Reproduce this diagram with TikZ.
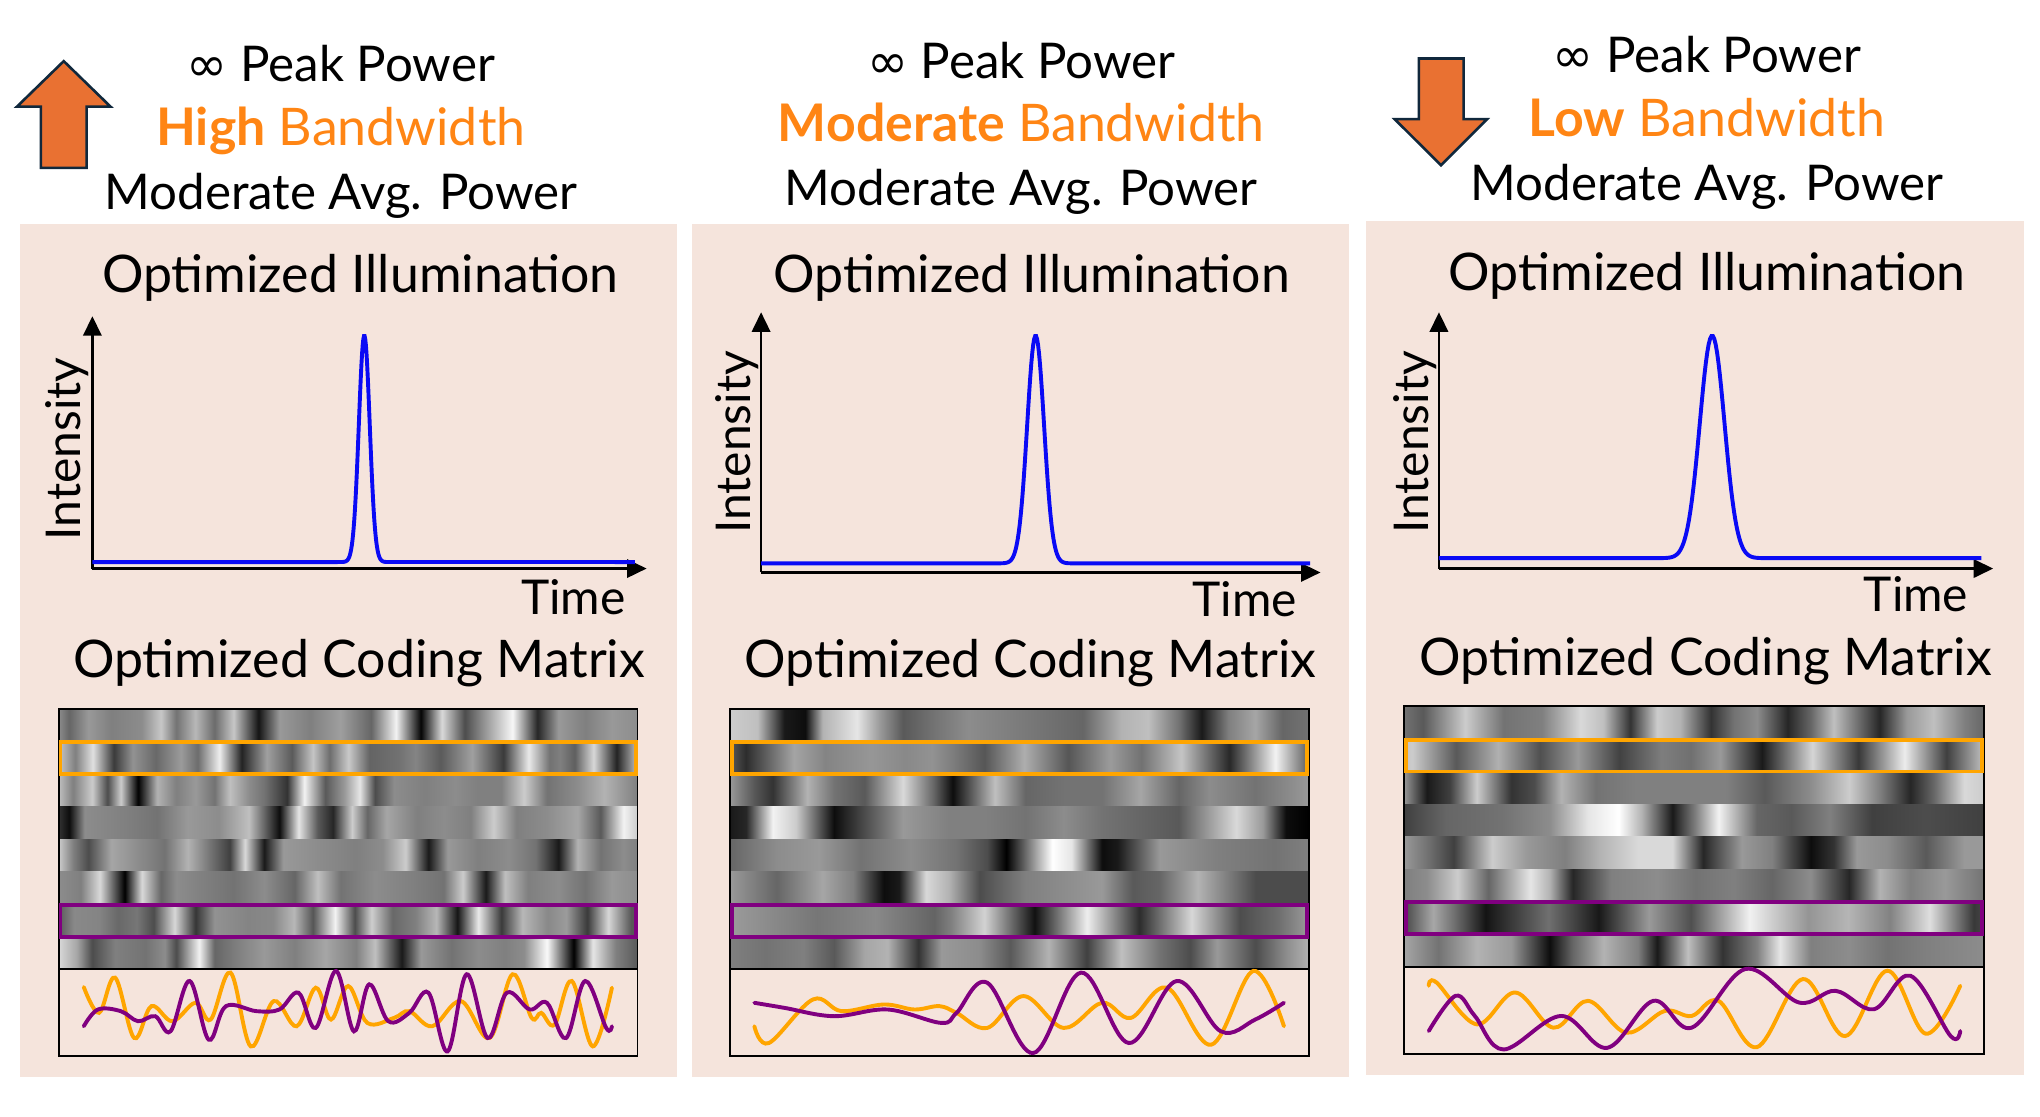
\documentclass[tikz,border=0pt]{standalone}
\usepackage{fontspec}
\setmainfont{Lato}
\newfontfamily\symfont{DejaVu Sans}
\usetikzlibrary{arrows.meta}

\definecolor{panelbg}{RGB}{245,228,220}
\definecolor{arroworange}{RGB}{233,113,50}
\definecolor{arrowedge}{RGB}{16,40,60}
\definecolor{bworange}{RGB}{255,133,20}
\definecolor{codeorange}{RGB}{255,165,0}
\definecolor{codepurple}{RGB}{128,0,128}
\definecolor{pulseblue}{RGB}{10,10,245}

\tikzset{
  panel/.style={fill=panelbg},
  header/.style={anchor=base, inner sep=0pt, font=\fontsize{38}{44}\selectfont},
  bandline/.style={header, text=bworange, font=\fontsize{40}{46}\selectfont},
  title/.style={anchor=base, inner sep=0pt, font=\fontsize{40}{46}\selectfont},
  axislabel/.style={inner sep=0pt, font=\fontsize{37}{43}\selectfont},
  axis/.style={line width=2bp, -{Triangle[length=15bp, width=14bp]}},
  pulse/.style={draw=pulseblue, line width=3bp},
  codeframe/.style={draw=black, line width=1.5bp},
  orangerow/.style={draw=codeorange, line width=3bp},
  purplerow/.style={draw=codepurple, line width=3bp},
  orangewave/.style={draw=codeorange, line width=3bp, line cap=round},
  purplewave/.style={draw=codepurple, line width=3bp, line cap=round},
  bigarrow/.style={fill=arroworange, draw=arrowedge, line width=2bp},
}

% x/value list -> horizontal grey shading (path covers 25bp..75bp)
\newcommand\makecoderow[5]{%
  \edef\rowlist{#5}%
  \gdef\rowspec{}%
  \foreach \u/\v [count=\k] in \rowlist {%
    \pgfmathsetmacro\pos{25+50*((\u-#2)/(#3-#2))}%
    \pgfmathsetmacro\g{max(0,min(1,#4))}%
    \ifnum\k=1 \xdef\rowspec{gray(0bp)=(\g)}\fi
    \xdef\rowspec{\rowspec; gray(\pos bp)=(\g)}%
    \xdef\lastg{\g}%
  }%
  \xdef\rowspec{\rowspec; gray(100bp)=(\lastg)}%
  \edef\tmp{\noexpand\pgfdeclarehorizontalshading{#1}{100bp}{\rowspec}}\tmp
}
% x/y list -> smooth curve
\newcommand\drawcodewave[2]{%
  \gdef\wavepts{}%
  \foreach \u/\v in #2 {\xdef\wavepts{\wavepts (\u,\v)}}%
  \edef\tmp{\noexpand\draw[#1] plot[smooth, tension=0.6] coordinates {\wavepts};}\tmp
}

% high bandwidth
\def\codeAa{22/.55, 50/.4, 100/.6, 160/.5, 240/.55, 290/.78, 330/.45, 380/.72, 430/.42, 480/.78, 545/.08, 600/.6, 680/.5, 760/.62, 840/.4, 905/.95, 970/.02, 1025/.85, 1085/.3, 1130/.55, 1210/.97, 1275/.15, 1330/.6, 1400/.5, 1470/.6, 1537/.55}
\def\codeAb{88/868, 128/945, 170/840, 220/1020, 265/925, 320/970, 380/915, 420/965, 472/825, 525/1045, 585/910, 645/985, 695/870, 735/965, 780/865, 830/975, 900/960, 940/940, 1000/985, 1075/910, 1150/1020, 1210/830, 1260/960, 1285/945, 1320/980, 1365/850, 1420/1045, 1470/870}
\def\codeAc{22/.75, 60/.5, 110/.8, 150/.3, 185/.8, 230/0, 280/.7, 330/.5, 380/.6, 430/.45, 470/.75, 520/.55, 560/.45, 620/.2, 665/.95, 720/.35, 770/.6, 810/.9, 850/.3, 900/.55, 980/.5, 1060/.55, 1120/.5, 1180/.5, 1240/.8, 1300/.45, 1380/.55, 1450/.7, 1537/.5}
\def\codeAd{22/.2, 50/.05, 90/.55, 200/.5, 280/.45, 360/.6, 440/.55, 520/.75, 600/.05, 650/.9, 700/.35, 740/.15, 790/.8, 830/.4, 880/.65, 960/.5, 1030/.55, 1100/.5, 1160/.8, 1220/.5, 1300/.55, 1380/.65, 1440/.35, 1500/.95, 1537/.8}
\def\codeAe{22/.8, 60/.5, 100/.3, 160/.65, 230/.55, 300/.45, 360/.7, 420/.45, 470/.25, 510/.85, 560/.1, 610/.6, 700/.55, 800/.5, 870/.55, 930/.8, 990/.1, 1040/.6, 1120/.5, 1200/.55, 1270/.45, 1330/.1, 1380/.7, 1440/.45, 1500/.55, 1537/.5}
\def\codeAf{22/.55, 80/.5, 130/.85, 195/0, 240/.85, 290/.4, 330/.55, 400/.5, 480/.45, 560/.55, 640/.4, 700/.75, 760/.45, 850/.55, 950/.5, 1030/.45, 1080/.8, 1140/.1, 1190/.75, 1250/.5, 1330/.55, 1400/.45, 1470/.6, 1537/.55}
\def\codeAg{88/985, 125/935, 185/940, 230/970, 275/955, 315/1000, 365/850, 415/1025, 460/925, 540/940, 600/935, 650/885, 695/990, 748/820, 795/1000, 835/860, 885/970, 940/945, 990/885, 1040/1060, 1090/830, 1145/1020, 1195/885, 1255/935, 1300/915, 1350/1020, 1400/850, 1455/990, 1470/985}
\def\codeAh{22/.85, 70/.65, 110/.3, 170/.5, 250/.45, 300/.55, 330/.3, 390/.95, 430/.4, 490/.5, 560/.6, 640/.5, 720/.65, 800/.5, 850/.75, 920/.1, 970/.6, 1050/.45, 1120/.55, 1190/.5, 1240/.55, 1300/.98, 1370/0, 1420/.9, 1480/.5, 1537/.35}
% moderate bandwidth
\def\codeBa{28/.8, 100/.75, 170/.1, 225/.05, 270/.7, 360/.9, 420/.6, 480/.35, 560/.45, 650/.55, 750/.5, 850/.45, 950/.4, 1050/.7, 1120/.75, 1200/.45, 1260/.1, 1330/.5, 1400/.65, 1470/.4, 1540/.45}
\def\codeBb{92/985, 130/1035, 245/905, 320/940, 430/920, 510/935, 575/925, 620/945, 700/990, 795/895, 900/990, 1000/915, 1075/960, 1170/870, 1285/1040, 1395/820, 1475/985}
\def\codeBc{28/.6, 90/.35, 140/.2, 230/.7, 300/.45, 380/.35, 480/.85, 560/.4, 610/.05, 720/.75, 800/.4, 900/.45, 1000/.45, 1100/.65, 1200/.4, 1280/.55, 1400/.45, 1540/.6}
\def\codeBd{28/.1, 70/.15, 140/.95, 200/.8, 300/.05, 380/.3, 480/.6, 600/.5, 700/.5, 800/.45, 900/.55, 1000/.45, 1100/.4, 1200/.35, 1350/.85, 1420/.6, 1480/.05, 1540/0}
\def\codeBe{28/.4, 150/.55, 260/.6, 370/.45, 500/.55, 620/.45, 700/.3, 750/0, 870/1, 920/.9, 1000/.05, 1040/.1, 1150/.6, 1300/.5, 1450/.45, 1540/.5}
\def\codeBf{28/.6, 150/.4, 270/.65, 350/.5, 430/.05, 470/.1, 540/.85, 600/.7, 680/.3, 800/.5, 900/.55, 1000/.6, 1080/.35, 1150/.4, 1250/.7, 1400/.3, 1540/.3}
\def\codeBg{92/915, 170/930, 300/955, 440/935, 580/975, 620/945, 700/855, 820/1065, 945/825, 1070/1035, 1195/850, 1310/1000, 1400/965, 1475/915}
\def\codeBh{28/.5, 120/.45, 220/.5, 300/.35, 380/.65, 440/.7, 520/.2, 580/.6, 680/.55, 760/.35, 860/.7, 960/.25, 1050/.75, 1150/.45, 1230/.3, 1300/.6, 1400/.3, 1480/.55, 1540/.7}
% low bandwidth
\def\codeCa{40/.45, 90/.35, 200/.8, 300/.45, 400/.5, 500/.85, 560/.75, 630/.2, 700/.8, 760/.7, 840/.2, 900/.45, 960/.55, 1040/.15, 1100/.4, 1160/.75, 1280/.15, 1350/.6, 1420/.75, 1500/.5, 1552/.4}
\def\codeCb{105/865, 125/855, 230/980, 330/885, 430/990, 520/910, 620/1005, 720/940, 790/955, 860/910, 960/1048, 1080/845, 1190/1015, 1300/820, 1400/1008, 1490/865}
\def\codeCc{40/.6, 100/.1, 160/.25, 230/.8, 320/.2, 380/.3, 450/.7, 540/.45, 640/.5, 760/.5, 880/.5, 980/.35, 1100/.55, 1200/.8, 1280/.5, 1360/.15, 1420/.4, 1500/.85, 1552/.8}
\def\codeCd{40/.25, 150/.4, 300/.45, 420/.55, 520/.9, 600/1, 660/.7, 740/.1, 800/.5, 860/.95, 960/.4, 1050/.35, 1150/.5, 1260/.25, 1400/.3, 1552/.25}
\def\codeCe{40/.6, 100/.45, 170/.25, 270/.8, 360/.6, 460/.5, 550/.7, 650/.85, 740/.85, 820/.15, 920/.6, 1000/.5, 1100/.05, 1160/.2, 1220/.6, 1300/.55, 1400/.35, 1500/.6, 1552/.6}
\def\codeCf{40/.5, 100/.55, 180/.8, 260/.4, 370/.9, 420/.7, 480/.15, 580/.5, 700/.55, 800/.45, 900/.5, 1000/.4, 1100/.55, 1200/.15, 1280/.7, 1360/.5, 1450/.6, 1552/.45}
\def\codeCg{105/1000, 175/895, 225/955, 300/1055, 450/955, 570/1050, 690/910, 790/990, 930/815, 1070/915, 1165/880, 1265/935, 1360/835, 1465/1015, 1490/1000}
\def\codeCh{40/.65, 130/.45, 230/.7, 320/.6, 420/.05, 480/.4, 560/.7, 650/.5, 700/.1, 780/.75, 870/.2, 960/.5, 1020/.9, 1100/.5, 1200/.55, 1300/.45, 1400/.5, 1552/.55}

\makecoderow{rowAa}{22}{1537}{\v}{\codeAa}
\makecoderow{rowAc}{22}{1537}{\v}{\codeAc}
\makecoderow{rowAd}{22}{1537}{\v}{\codeAd}
\makecoderow{rowAe}{22}{1537}{\v}{\codeAe}
\makecoderow{rowAf}{22}{1537}{\v}{\codeAf}
\makecoderow{rowAh}{22}{1537}{\v}{\codeAh}
\makecoderow{rowBa}{28}{1540}{\v}{\codeBa}
\makecoderow{rowBc}{28}{1540}{\v}{\codeBc}
\makecoderow{rowBd}{28}{1540}{\v}{\codeBd}
\makecoderow{rowBe}{28}{1540}{\v}{\codeBe}
\makecoderow{rowBf}{28}{1540}{\v}{\codeBf}
\makecoderow{rowBh}{28}{1540}{\v}{\codeBh}
\makecoderow{rowCa}{40}{1552}{\v}{\codeCa}
\makecoderow{rowCc}{40}{1552}{\v}{\codeCc}
\makecoderow{rowCd}{40}{1552}{\v}{\codeCd}
\makecoderow{rowCe}{40}{1552}{\v}{\codeCe}
\makecoderow{rowCf}{40}{1552}{\v}{\codeCf}
\makecoderow{rowCh}{40}{1552}{\v}{\codeCh}
\makecoderow{rowAb}{88}{1470}{0.03+0.94*(1075-\v)/260}{\codeAb}
\makecoderow{rowAg}{88}{1470}{0.03+0.94*(1075-\v)/260}{\codeAg}
\makecoderow{rowBb}{92}{1475}{0.03+0.94*(1075-\v)/260}{\codeBb}
\makecoderow{rowBg}{92}{1475}{0.03+0.94*(1075-\v)/260}{\codeBg}
\makecoderow{rowCb}{105}{1490}{0.03+0.94*(1068-\v)/260}{\codeCb}
\makecoderow{rowCg}{105}{1490}{0.03+0.94*(1068-\v)/260}{\codeCg}

\begin{document}
\begin{tikzpicture}[x=1bp, y=-1bp]
  \useasboundingbox (0,0) rectangle (1568,858);

  % panels
  \fill[panel] (15,172) rectangle (520,828);
  \fill[panel] (532,172) rectangle (1037,828);
  \fill[panel] (1050,170) rectangle (1556,826);

  % bandwidth arrows
  \draw[bigarrow] (31.4,129) -- (31.4,82) -- (13,82) -- (49,47) -- (85,82) -- (66.6,82) -- (66.6,129) -- cycle;
  \draw[bigarrow] (1090.6,45) -- (1125,45) -- (1125,91.6) -- (1143,91.6) -- (1107.6,127) -- (1072,91.6) -- (1090.6,91.6) -- cycle;

  % headers
  \node[header] (peakA) at (262,63) {{\symfont ∞} Peak Power};
  \node[bandline] (bandA) at (262,112) {\textbf{High} Bandwidth};
  \node[header] (avgA) at (262,161) {Moderate Avg. Power};
  \node[header] (peakB) at (785,60) {{\symfont ∞} Peak Power};
  \node[bandline] (bandB) at (785,109) {\textbf{Moderate} Bandwidth};
  \node[header] (avgB) at (785,158) {Moderate Avg. Power};
  \node[header] (peakC) at (1312,56) {{\symfont ∞} Peak Power};
  \node[bandline] (bandC) at (1312,105) {\textbf{Low} Bandwidth};
  \node[header] (avgC) at (1312,154) {Moderate Avg. Power};

  % titles
  \node[title] (illumA) at (277,225) {Optimized Illumination};
  \node[title] (illumB) at (793,225) {Optimized Illumination};
  \node[title] (illumC) at (1312,223) {Optimized Illumination};
  \node[title] (matA) at (276,521) {Optimized Coding Matrix};
  \node[title] (matB) at (792,521) {Optimized Coding Matrix};
  \node[title] (matC) at (1311,519) {Optimized Coding Matrix};

  % intensity plots
  \coordinate (oA) at (71,437);
  \coordinate (yA) at (71,243);
  \coordinate (xA) at (497,437);
  \draw[axis] (oA) -- (yA);
  \draw[axis] (oA) -- (xA);
  \draw[pulse] (71,432) -- (258,432) -- plot[domain=258:302, samples=90] (\x,{432-174*exp(-0.5*((\x-280)/4.2)^2)}) -- (488,432);
  \node[axislabel, rotate=90, anchor=base] (intA) at (62,345) {Intensity};
  \node[axislabel, anchor=base east] (timeA) at (481,472) {Time};

  \coordinate (oB) at (585,440);
  \coordinate (yB) at (585,240);
  \coordinate (xB) at (1015,440);
  \draw[axis] (oB) -- (yB);
  \draw[axis] (oB) -- (xB);
  \draw[pulse] (585,433) -- (763,433) -- plot[domain=763:829, samples=90] (\x,{433-175*exp(-0.5*((\x-796)/6.5)^2)}) -- (1007,433);
  \node[axislabel, rotate=90, anchor=base] (intB) at (577,340) {Intensity};
  \node[axislabel, anchor=base east] (timeB) at (997,474) {Time};

  \coordinate (oC) at (1106,437);
  \coordinate (yC) at (1106,240);
  \coordinate (xC) at (1532,437);
  \draw[axis] (oC) -- (yC);
  \draw[axis] (oC) -- (xC);
  \draw[pulse] (1106,429) -- (1268,429) -- plot[domain=1268:1364, samples=90] (\x,{429-171*exp(-0.5*((\x-1316)/9.5)^2)}) -- (1523,429);
  \node[axislabel, rotate=90, anchor=base] (intC) at (1098,340) {Intensity};
  \node[axislabel, anchor=base east] (timeC) at (1513,470) {Time};

  % coding matrices
  \foreach \r [count=\i from 0] in {a,b,c,d,e,f,g,h} {
    \shade[shading=rowA\r] (45,545+25*\i) rectangle (490,570+25*\i);
    \shade[shading=rowB\r] (561,545+25*\i) rectangle (1006,570+25*\i);
    \shade[shading=rowC\r] (1079,543+25*\i) rectangle (1525,568+25*\i);
  }
  \draw[codeframe] (45,545) rectangle (490,745);
  \draw[codeframe] (561,545) rectangle (1006,745);
  \draw[codeframe] (1079,543) rectangle (1525,743);
  \draw[orangerow] (46.5,570.5) rectangle (488.5,595);
  \draw[purplerow] (46.5,695.5) rectangle (488.5,720);
  \draw[orangerow] (562.5,570.5) rectangle (1004.5,595);
  \draw[purplerow] (562.5,695.5) rectangle (1004.5,720);
  \draw[orangerow] (1080.5,568.5) rectangle (1523.5,593);
  \draw[purplerow] (1080.5,693.5) rectangle (1523.5,718);

  % code waveforms
  \draw[codeframe, fill=panelbg] (45,745) rectangle (490,812);
  \draw[codeframe, fill=panelbg] (561,745) rectangle (1006,812);
  \draw[codeframe, fill=panelbg] (1079,743) rectangle (1525,810);
  \begin{scope}[shift={(38.54,534.98)}, x=0.29373bp, y=-0.25769bp]
    \drawcodewave{orangewave}{\codeAb}
    \drawcodewave{purplewave}{\codeAg}
  \end{scope}
  \begin{scope}[shift={(552.76,534.98)}, x=0.29431bp, y=-0.25769bp]
    \drawcodewave{orangewave}{\codeBb}
    \drawcodewave{purplewave}{\codeBg}
  \end{scope}
  \begin{scope}[shift={(1067.20,534.79)}, x=0.29497bp, y=-0.25769bp]
    \drawcodewave{orangewave}{\codeCb}
    \drawcodewave{purplewave}{\codeCg}
  \end{scope}
\end{tikzpicture}
\end{document}
